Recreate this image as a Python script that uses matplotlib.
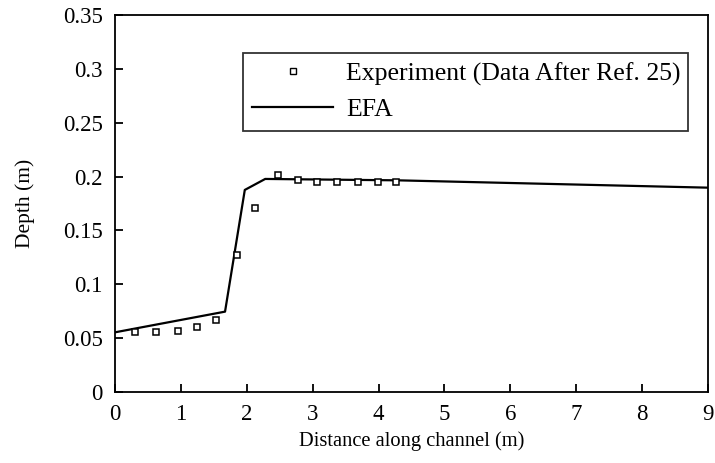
import matplotlib
matplotlib.use("Agg")
import matplotlib.pyplot as plt
from matplotlib.lines import Line2D

plt.rcParams['font.family'] = ['Liberation Serif', 'DejaVu Serif']

# Experimental data
exp_x = [0.31, 0.62, 0.95, 1.24, 1.54, 1.85, 2.12, 2.47, 2.77, 3.07, 3.37, 3.69, 3.99, 4.27]
exp_y = [0.0554, 0.0554, 0.0569, 0.0604, 0.0669, 0.1275, 0.1706, 0.2012, 0.1968, 0.195, 0.195, 0.195, 0.195, 0.195]

# EFA simulation
efa_x = [0.0, 1.67, 1.97, 2.28, 4.3, 9.0]
efa_y = [0.0554, 0.0746, 0.1876, 0.1978, 0.1965, 0.1897]

xticks = [0, 1, 2, 3, 4, 5, 6, 7, 8, 9]
yticks = [0, 0.05, 0.1, 0.15, 0.2, 0.25, 0.3, 0.35]
ytick_labels = ['0', '0.05', '0.1', '0.15', '0.2', '0.25', '0.3', '0.35']

fig = plt.figure(figsize=(7.15, 4.63), dpi=100)
ax = fig.add_axes([115/715, 1 - 392/463, (708-115)/715, (392-15)/463])

ax.plot(efa_x, efa_y, color='black', lw=1.6)
ax.plot(exp_x, exp_y, linestyle='none', marker='s', markersize=4.5,
        markerfacecolor='white', markeredgecolor='black', markeredgewidth=1.1)

ax.set_xlim(0, 9)
ax.set_ylim(0, 0.35)
ax.set_xticks(xticks)
ax.set_xticklabels([str(t) for t in xticks])
ax.set_yticks(yticks)
ax.set_yticklabels(ytick_labels)
ax.tick_params(direction='in', length=6, width=1.3, labelsize=16.5, pad=9,
               top=False, right=False)
for s in ax.spines.values():
    s.set_linewidth(1.3)

ax.set_xlabel('Distance along channel (m)', fontsize=14.8, labelpad=4)
ax.set_ylabel('Depth (m)', fontsize=15.5, labelpad=20)

handles = [
    Line2D([], [], linestyle='none', marker='s', markersize=4,
           markerfacecolor='white', markeredgecolor='black', markeredgewidth=1.0),
    Line2D([], [], color='black', lw=1.6),
]
leg = ax.legend(handles, ['Experiment (Data After Ref. 25)', 'EFA'],
                loc='upper left',
                bbox_to_anchor=((243-115)/593, (392-128)/377, (688-243)/593, (128-53)/377),
                mode='expand', fontsize=18.5, frameon=True, fancybox=False,
                edgecolor='black', handlelength=3.15, handletextpad=0.5,
                borderpad=0.36, labelspacing=0.5, borderaxespad=0)
leg.get_frame().set_linewidth(1.3)

fig.savefig('out.png', dpi=100)
